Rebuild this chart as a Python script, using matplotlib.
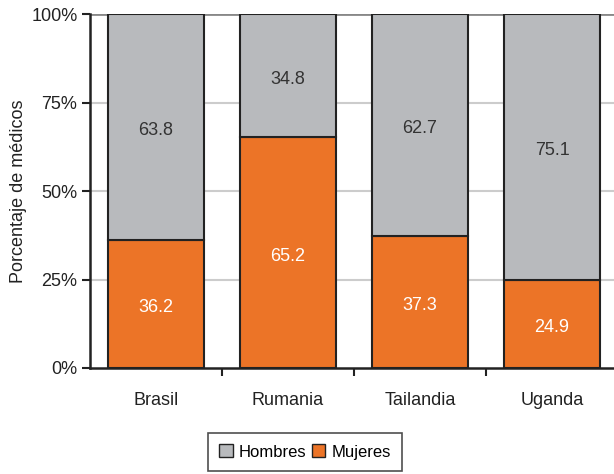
import matplotlib
matplotlib.use("Agg")
import matplotlib.pyplot as plt
from matplotlib.patches import Patch
from matplotlib.transforms import offset_copy

# datos del grafico
paises = ["Brasil", "Rumania", "Tailandia", "Uganda"]
mujeres = [36.2, 65.2, 37.3, 24.9]
hombres = [63.8, 34.8, 62.7, 75.1]
ticks_y = [0, 25, 50, 75, 100]

gris = "#b8babd"
naranja = "#ec7427"

plt.rcParams["font.family"] = ["Liberation Sans", "DejaVu Sans"]

fig = plt.figure(figsize=(6.14, 4.74), dpi=100)
ax = fig.add_axes([90 / 614, 106 / 474, 528 / 614, 354 / 474])

x = range(len(paises))
ax.bar(x, mujeres, width=0.72, color=naranja, edgecolor="#222222", linewidth=1.5, zorder=3)
ax.bar(x, hombres, width=0.72, bottom=mujeres, color=gris, edgecolor="#222222", linewidth=1.5, zorder=3)

# etiquetas de valores (un poco por debajo del centro, como en el original)
trans = offset_copy(ax.transData, fig=fig, x=0, y=-4, units="dots")
for i in x:
    ax.text(i, mujeres[i] / 2, f"{mujeres[i]:.1f}", ha="center", va="center",
            color="white", fontsize=13, zorder=4, transform=trans)
    ax.text(i, mujeres[i] + hombres[i] / 2, f"{hombres[i]:.1f}", ha="center", va="center",
            color="#333333", fontsize=13, zorder=4, transform=trans)

ax.set_xlim(-0.5, 3.5)
ax.set_ylim(0, 100)
ax.set_yticks(ticks_y)
ax.set_yticklabels([f"{t}%" for t in ticks_y], fontsize=13, color="#222222")
ax.set_xticks(list(x))
ax.set_xticklabels(paises, fontsize=13, color="#222222")
ax.tick_params(axis="x", length=0, pad=17)
ax.set_xticks([0.5, 1.5, 2.5], minor=True)
ax.tick_params(axis="x", which="minor", length=6, width=1.5, direction="out", color="#222222")
ax.tick_params(axis="y", length=6, width=1.5, direction="out", color="#222222", pad=3)

for t in ticks_y[1:-1]:
    ax.axhline(t, color="#cccccc", linewidth=1.5, zorder=1)
ax.axhline(100, color="#888888", linewidth=2, zorder=1)

for s in ["top", "right"]:
    ax.spines[s].set_visible(False)
for s in ["left", "bottom"]:
    ax.spines[s].set_linewidth(1.8)
    ax.spines[s].set_color("#222222")

ax.set_ylabel("Porcentaje de médicos", fontsize=13, color="#222222", labelpad=3)

handles = [Patch(facecolor=gris, edgecolor="#222222", label="Hombres"),
           Patch(facecolor=naranja, edgecolor="#222222", label="Mujeres")]
leg = fig.legend(handles=handles, loc="center", bbox_to_anchor=(305 / 614, 1 - 452 / 474),
                 ncol=2, frameon=True, fancybox=False, fontsize=12,
                 handlelength=0.8, handleheight=0.8, handletextpad=0.35, columnspacing=0.35,
                 borderpad=0.7)
leg.get_frame().set_edgecolor("#222222")
leg.get_frame().set_linewidth(1.2)

fig.savefig("out.png", dpi=100)
